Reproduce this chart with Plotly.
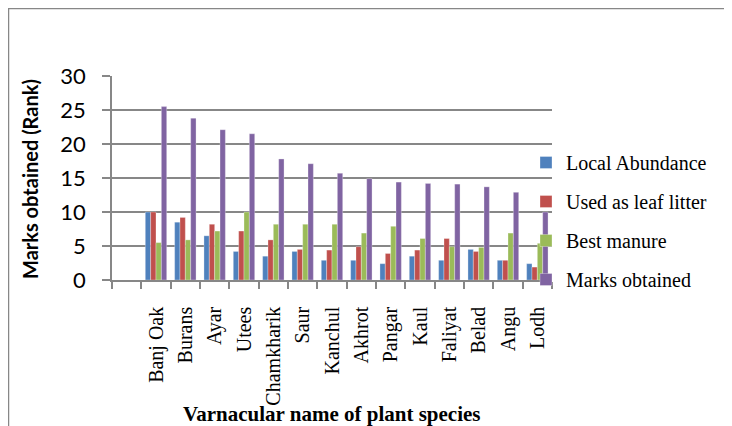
import plotly.graph_objects as go

species = ["Banj Oak", "Burans", "Ayar", "Utees", "Chamkharik", "Saur", "Kanchul",
           "Akhrot", "Pangar", "Kaul", "Faliyat", "Belad", "Angu", "Lodh"]
local_abundance = [10, 8.5, 6.5, 4.2, 3.5, 4.2, 2.9, 2.9, 2.4, 3.5, 2.9, 4.5, 2.9, 2.4]
leaf_litter = [10, 9.2, 8.2, 7.2, 5.9, 4.5, 4.4, 4.9, 3.9, 4.4, 6.1, 4.2, 2.9, 1.9]
best_manure = [5.5, 5.9, 7.2, 10, 8.2, 8.2, 8.2, 6.9, 7.9, 6.1, 4.9, 4.8, 6.9, 5.4]
marks_obtained = [25.5, 23.8, 22.1, 21.5, 17.8, 17.1, 15.7, 14.9, 14.4, 14.2, 14.1, 13.7, 12.9, 10]
y_ticks = [0, 5, 10, 15, 20, 25, 30]

series = [
    ("Local Abundance", local_abundance, "#4F81BD"),
    ("Used as leaf litter", leaf_litter, "#C0504D"),
    ("Best manure", best_manure, "#9BBB59"),
    ("Marks obtained", marks_obtained, "#8064A2"),
]

categories = [" "] + species

fig = go.Figure()
for i, (name, vals, col) in enumerate(series):
    fig.add_trace(go.Bar(
        x=species, y=vals, name=name, legendgroup=str(i),
        marker=dict(color=col, line=dict(color="rgba(255,255,255,0.5)", width=0.6)),
    ))

# page body has an 8px margin: figure sits at (8, 8) in the window
OFF = 8
W, H = 732 - OFF, 426 - OFF
# desired plot-area edges in window pixels
PL, PR, PT, PB = 112, 552, 76, 280
L, R, T, B = PL - OFF, (W + OFF) - PR, PT - OFF, (H + OFF) - PB
pw, ph = PR - PL, PB - PT

def px_x(p):
    return (p - PL) / pw

def px_y(p):
    return (PB - p) / ph

grid = "#878787"
frame = dict(color="#878787", width=2.5)
fig.update_layout(
    width=W, height=H,
    margin=dict(l=L, r=R, t=T, b=B, autoexpand=False),
    paper_bgcolor="white", plot_bgcolor="white",
    barmode="group", bargap=0.27, bargroupgap=0,
    showlegend=True,
    legend=dict(
        x=px_x(526), y=px_y(143), xanchor="left", yanchor="top",
        font=dict(family="Liberation Serif", size=20, color="black"),
        traceorder="grouped", tracegroupgap=10,
        bgcolor="rgba(0,0,0,0)", itemclick=False,
    ),
    xaxis=dict(
        type="category", categoryorder="array", categoryarray=categories,
        range=[-0.5, len(categories) - 0.5],
        tickson="boundaries", ticks="outside", ticklen=7, tickcolor=grid, tickwidth=1.5,
        tickangle=-90, ticklabelstandoff=17,
        tickfont=dict(family="Liberation Serif", size=20, color="black"),
        showline=True, linecolor=grid, linewidth=1.5,
        showgrid=False, zeroline=False, fixedrange=True,
    ),
    yaxis=dict(
        range=[0, 30], tickvals=y_ticks, ticktext=[str(v) for v in y_ticks],
        ticks="outside", ticklen=8, tickcolor=grid, tickwidth=1.5,
        ticklabelstandoff=12,
        tickfont=dict(family="Lato", size=22, color="black"),
        showline=True, linecolor=grid, linewidth=1.5,
        showgrid=True, gridcolor=grid, gridwidth=1.5,
        zeroline=False, fixedrange=True,
    ),
    annotations=[
        dict(text="<b>Marks obtained (Rank)</b>", textangle=-90,
             x=px_x(30), y=px_y(179), xref="paper", yref="paper",
             xanchor="center", yanchor="middle", showarrow=False,
             font=dict(family="Lato", size=20, color="black")),
        dict(text="<b>Varnacular name of plant species</b>",
             x=px_x(332), y=px_y(414), xref="paper", yref="paper",
             xanchor="center", yanchor="middle", showarrow=False,
             font=dict(family="Liberation Serif", size=21, color="black")),
    ],
    shapes=[
        dict(type="line", xref="paper", yref="paper",
             x0=px_x(8), y0=px_y(8), x1=px_x(760), y1=px_y(8), line=frame, layer="below"),
        dict(type="line", xref="paper", yref="paper",
             x0=px_x(8), y0=px_y(8), x1=px_x(8), y1=px_y(460), line=frame, layer="below"),
    ],
)

fig.write_html("out.html")
